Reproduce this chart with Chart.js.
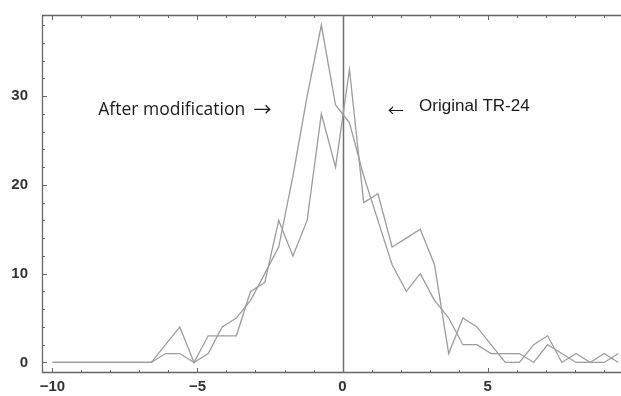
<!DOCTYPE html>
<html>
<head>
<meta charset="utf-8">
<script src="https://cdn.jsdelivr.net/npm/chart.js@4.4.0/dist/chart.umd.min.js"></script>
<style>
  html, body { margin: 0; padding: 0; background: #fff; }
  #wrap { width: 621px; height: 396px; }
</style>
</head>
<body>
<div id="wrap"><canvas id="canvas1" width="621" height="396"></canvas></div>
<script>
// bin centres
var binX = [-10, -9.51, -9.02, -8.54, -8.05, -7.56, -7.07, -6.59, -6.10, -5.61,
            -5.12, -4.63, -4.15, -3.66, -3.17, -2.68, -2.20, -1.71, -1.22, -0.73,
            -0.24, 0.24, 0.73, 1.22, 1.71, 2.20, 2.68, 3.17, 3.66, 4.15,
            4.63, 5.12, 5.61, 6.10, 6.59, 7.07, 7.56, 8.05, 8.54, 9.02, 9.51];
var afterMod = [0, 0, 0, 0, 0, 0, 0, 0, 1, 1,
                0, 1, 4, 5, 7, 10, 13, 21, 30, 38,
                29, 27, 21, 16, 11, 8, 10, 7, 5, 2,
                2, 1, 1, 1, 0, 2, 1, 0, 0, 0, 1];
var originalTR24 = [0, 0, 0, 0, 0, 0, 0, 0, 2, 4,
                    0, 3, 3, 3, 8, 9, 16, 12, 16, 28,
                    22, 33, 18, 19, 13, 14, 15, 11, 1, 5,
                    4, 2, 0, 0, 2, 3, 0, 1, 0, 1, 0];
var xTickLabels = [-10, -5, 0, 5];
var yTickLabels = [0, 10, 20, 30];

function pts(ys) {
    return ys.map(function (v, i) { return { x: binX[i], y: v }; });
}
function minus(v) {
    return v < 0 ? '\u2212' + Math.abs(v) : String(v);
}

var frame = {
    id: 'frame',
    beforeDatasetsDraw: function (chart) {
        var ctx = chart.ctx, a = chart.chartArea;
        var xs = chart.scales.x, ys = chart.scales.y;
        ctx.save();
        ctx.strokeStyle = '#666';
        ctx.lineWidth = 1.3;
        ctx.beginPath();
        ctx.moveTo(a.left + 0.5, a.top + 0.5);
        ctx.lineTo(a.left + 0.5, a.bottom - 0.5);
        ctx.lineTo(a.right, a.bottom - 0.5);
        ctx.moveTo(a.left, a.top + 0.5);
        ctx.lineTo(a.right, a.top + 0.5);
        ctx.stroke();
        // inward ticks
        ctx.lineWidth = 1;
        ctx.beginPath();
        for (var t = -10; t <= 9; t++) {
            var px = Math.round(xs.getPixelForValue(t)) + 0.5;
            var len = (t % 5 === 0) ? 5 : 3;
            ctx.moveTo(px, a.bottom);
            ctx.lineTo(px, a.bottom - len);
            ctx.moveTo(px, a.top);
            ctx.lineTo(px, a.top + len);
        }
        for (var v = 0; v <= 38; v += 2) {
            var py = Math.round(ys.getPixelForValue(v)) + 0.5;
            var l2 = (v % 10 === 0) ? 5 : 3;
            ctx.moveTo(a.left, py);
            ctx.lineTo(a.left + l2, py);
        }
        ctx.stroke();
        // zero line
        var zx = Math.round(xs.getPixelForValue(0)) + 0.5;
        ctx.strokeStyle = '#707070';
        ctx.lineWidth = 1.5;
        ctx.beginPath();
        ctx.moveTo(zx, a.top);
        ctx.lineTo(zx, a.bottom);
        ctx.stroke();
        ctx.restore();
    },
    afterDraw: function (chart) {
        var ctx = chart.ctx;
        var xs = chart.scales.x, ys = chart.scales.y;
        ctx.save();
        ctx.fillStyle = '#1a1a1a';
        ctx.textAlign = 'left';
        ctx.textBaseline = 'alphabetic';
        ctx.font = '17.5px "Open Sans"';
        ctx.fillText('After modification', xs.getPixelForValue(-8.42), ys.getPixelForValue(27.85));
        ctx.font = '17px "Liberation Sans"';
        ctx.fillText('Original TR-24', xs.getPixelForValue(2.64), ys.getPixelForValue(28.3));
        // arrows
        ctx.textBaseline = 'middle';
        ctx.font = '18px "Noto Sans CJK JP"';
        ctx.fillText('\u2192', xs.getPixelForValue(-3.07), ys.getPixelForValue(28.5));
        ctx.font = '16px "Noto Sans CJK JP"';
        ctx.fillText('\u2190', xs.getPixelForValue(1.56), ys.getPixelForValue(28.5));
        ctx.restore();
    }
};

var tickFont = { family: '"Liberation Sans Narrow", "Liberation Sans"', size: 15, weight: 'bold' };

new Chart(document.getElementById('canvas1'), {
    type: 'line',
    data: {
        datasets: [{
            label: 'After modification',
            data: pts(afterMod),
            borderColor: '#9c9c9c',
            borderWidth: 1.3,
            pointRadius: 0,
            tension: 0,
            fill: false
        }, {
            label: 'Original TR-24',
            data: pts(originalTR24),
            borderColor: '#9c9c9c',
            borderWidth: 1.3,
            pointRadius: 0,
            tension: 0,
            fill: false
        }]
    },
    options: {
        responsive: false,
        animation: false,
        layout: { padding: { top: 10, right: 0, left: 0, bottom: 0 } },
        plugins: { legend: { display: false }, tooltip: { enabled: false } },
        scales: {
            x: {
                type: 'linear',
                min: -10.36,
                max: 9.6,
                grid: { display: false },
                border: { display: false },
                afterBuildTicks: function (s) {
                    s.ticks = xTickLabels.map(function (v) { return { value: v }; });
                },
                afterFit: function (s) { s.height = 23; },
                ticks: {
                    font: tickFont,
                    color: '#333',
                    padding: -3,
                    maxRotation: 0,
                    autoSkip: false,
                    callback: function (v) { return minus(v); }
                }
            },
            y: {
                min: -1.19,
                max: 39.14,
                grid: { display: false },
                border: { display: false },
                afterBuildTicks: function (s) {
                    s.ticks = yTickLabels.map(function (v) { return { value: v }; });
                },
                afterFit: function (s) { s.width = 42; },
                ticks: {
                    font: tickFont,
                    color: '#333',
                    padding: 6,
                    callback: function (v) { return minus(v); }
                }
            }
        }
    },
    plugins: [frame]
});
</script>
</body>
</html>
